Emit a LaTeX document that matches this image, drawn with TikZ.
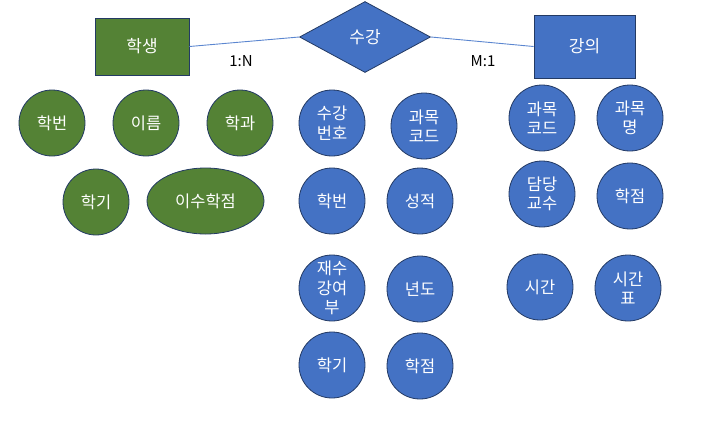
\documentclass[tikz,border=0pt]{standalone}
\usepackage{fontspec}
\setmainfont{Noto Sans CJK KR}
\usepackage{tikz}
\usetikzlibrary{shapes.geometric}
\definecolor{yesil}{HTML}{548235}
\definecolor{mavi}{HTML}{4472C4}
\definecolor{cizgi}{HTML}{233A64}
\definecolor{bag}{HTML}{5B86D0}

\begin{document}
\begin{tikzpicture}[x=1pt,y=-1pt,
  varlik/.style={draw=cizgi,line width=0.9pt,text=white,minimum width=94pt,minimum height=57pt,inner sep=0pt,font=\fontsize{17}{20}\selectfont},
  iliski/.style={diamond,draw=cizgi,line width=0.8pt,fill=mavi,text=white,aspect=1.85,minimum width=131pt,minimum height=71pt,inner sep=0pt,font=\fontsize{17}{20}\selectfont},
  nitelik/.style={circle,draw=cizgi,line width=0.8pt,text=white,minimum size=66pt,inner sep=0pt,align=center,font=\fontsize{16.5}{19.5}\selectfont},
  yesilA/.style={nitelik,fill=yesil},
  maviA/.style={nitelik,fill=mavi},
  oran/.style={font=\fontsize{15}{17}\selectfont}]
\useasboundingbox (0,0) rectangle (710,426);
% varliklar ve iliski
\node[varlik,fill=yesil] (ogrenci) at (142,46.5) {학생};
\node[varlik,fill=mavi,minimum width=101pt,minimum height=63pt] (ders) at (584.5,46.5) {강의};
\node[iliski] (kayit) at (365,37) {수강};
\draw[bag,line width=0.9pt] (ogrenci.east) -- (kayit.west);
\draw[bag,line width=0.9pt] (kayit.east) -- (ders.west);
\node[oran] (oranA) at (241,61) {1:N};
\node[oran] (oranB) at (483,61) {M:1};
% 학생 nitelikleri
\node[yesilA] (ogrNo) at (52,123) {학번};
\node[yesilA] (ogrAd) at (146,123) {이름};
\node[yesilA] (ogrBolum) at (240,123) {학과};
\node[yesilA] (ogrDonem) at (96,202) {학기};
\node[ellipse,draw=cizgi,line width=0.8pt,fill=yesil,text=white,minimum width=117pt,minimum height=66pt,inner sep=0pt,font=\fontsize{16.5}{19.5}\selectfont] (ogrKredi) at (205.5,201) {이수학점};
% 수강 nitelikleri
\node[maviA] (kNo) at (332,123) {수강\\번호};
\node[maviA] (kDers) at (424,126) {과목\\코드};
\node[maviA] (kOgr) at (332,201) {학번};
\node[maviA] (kNot) at (420,201) {성적};
\node[maviA] (kTekrar) at (332,288) {재수\\강여\\부};
\node[maviA] (kYil) at (420,289) {년도};
\node[maviA] (kDonem) at (332,365) {학기};
\node[maviA] (kKredi) at (420,366) {학점};
% 강의 nitelikleri
\node[maviA] (dKod) at (542,118) {과목\\코드};
\node[maviA] (dAd) at (630,118) {과목\\명};
\node[maviA] (dHoca) at (542,194) {담당\\교수};
\node[maviA] (dKredi) at (630,196) {학점};
\node[maviA] (dSaat) at (540,287) {시간};
\node[maviA] (dTablo) at (628,288) {시간\\표};
\end{tikzpicture}
\end{document}
